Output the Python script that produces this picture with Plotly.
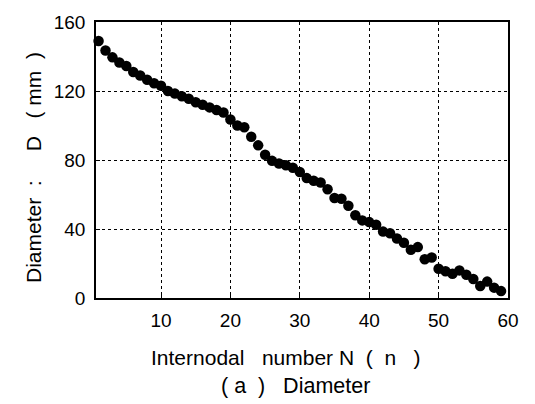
import plotly.graph_objects as go

# Data
internode = list(range(1, 60))
diameter = [149, 143.5, 139.5, 136.5, 134.5, 131, 129, 126.5, 124.5, 123,
            120, 118.5, 117, 115.5, 113.5, 112, 110.5, 109, 107.5, 103.5,
            100, 99, 93.5, 88.5, 83, 79.5, 78, 77, 75.5, 73,
            69.5, 68, 67, 63, 58, 57.5, 53.5, 48, 45, 44,
            42.5, 38.5, 37.5, 34.5, 32, 28, 29.5, 22.5, 23.5, 17,
            15.5, 14, 16, 13.5, 11, 7, 9.5, 6, 4]

x_ticks = [10, 20, 30, 40, 50, 60]
y_ticks = [0, 40, 80, 120, 160]

FONT = "Liberation Sans, Arial, sans-serif"
SP = "&nbsp;"

fig = go.Figure()
fig.add_trace(go.Scatter(
    x=internode, y=diameter, mode="markers",
    marker=dict(color="black", size=10.5, line=dict(width=0)),
    cliponaxis=False, showlegend=False,
))

axis_common = dict(
    showline=True, linecolor="black", linewidth=1.5, mirror=True,
    showgrid=True, gridcolor="black", gridwidth=1, griddash="dot",
    zeroline=False, ticks="inside", ticklen=4, tickcolor="black",
    tickfont=dict(family=FONT, size=19, color="black"),
)

fig.update_xaxes(range=[0.63, 60], tickvals=x_ticks, ticklabelstandoff=4, **axis_common)
fig.update_yaxes(range=[0, 160], tickvals=y_ticks, ticklabelstandoff=5, **axis_common)

xtitle = "Internodal" + SP * 3 + "number" + SP + "N" + SP * 2 + "(" + SP * 2 + "n" + SP * 3 + ")"
sub = "(" + SP + "a" + SP * 2 + ")" + SP * 3 + "Diameter"
ytitle = "Diameter" + SP * 2 + ":" + SP * 5 + "D" + SP * 3 + "(" + SP + "mm" + SP * 2 + ")"

fig.update_layout(
    width=535, height=404,
    margin=dict(l=96, r=27, t=20, b=106),
    paper_bgcolor="white", plot_bgcolor="white",
    font=dict(family=FONT, color="black"),
    annotations=[
        dict(text=xtitle, xref="paper", yref="paper",
             x=0.5, y=0, xanchor="center", yanchor="middle",
             xshift=-16, yshift=-59, showarrow=False,
             font=dict(family=FONT, size=21, color="black")),
        dict(text=sub, xref="paper", yref="paper",
             x=0.5, y=0, xanchor="center", yanchor="middle",
             xshift=-7, yshift=-88, showarrow=False,
             font=dict(family=FONT, size=21.5, color="black")),
        dict(text=ytitle, xref="paper", yref="paper",
             x=0, y=0.5, xanchor="center", yanchor="middle",
             xshift=-63, yshift=-8, textangle=-90, showarrow=False,
             font=dict(family=FONT, size=21, color="black")),
    ],
)

fig.write_html("out.html")
